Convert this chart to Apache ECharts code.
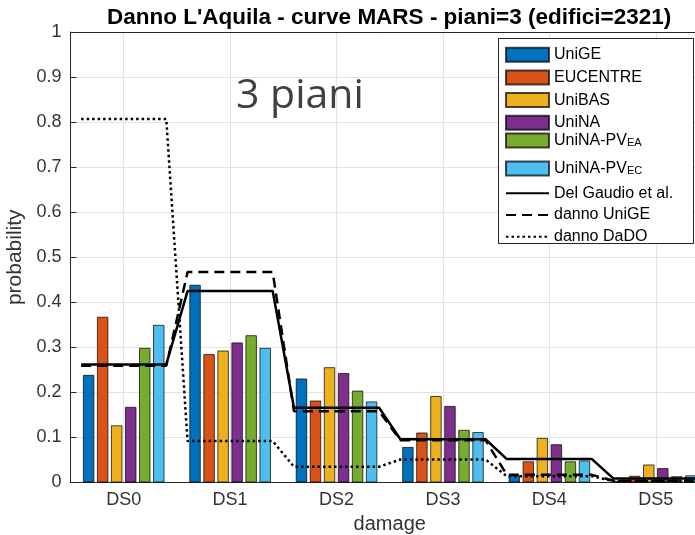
<!DOCTYPE html>
<html><head><meta charset="utf-8">
<script src="https://cdn.jsdelivr.net/npm/echarts@6/dist/echarts.min.js"></script>
<style>html,body{margin:0;padding:0;background:#fff}#c{width:695px;height:535px}</style>
</head><body><div id="c"></div>
<script>
// ---- data ----
const categories = ['DS0', 'DS1', 'DS2', 'DS3', 'DS4', 'DS5'];
const yTickLabels = ['0', '0.1', '0.2', '0.3', '0.4', '0.5', '0.6', '0.7', '0.8', '0.9', '1'];
const uniGE      = [0.239, 0.439, 0.231, 0.079, 0.016, 0.004];
const eucentre   = [0.368, 0.285, 0.182, 0.111, 0.047, 0.015];
const uniBAS     = [0.127, 0.293, 0.256, 0.192, 0.099, 0.040];
const uniNA      = [0.168, 0.311, 0.243, 0.170, 0.085, 0.032];
const uniNApvEA  = [0.299, 0.327, 0.204, 0.117, 0.047, 0.014];
const uniNApvEC  = [0.350, 0.299, 0.180, 0.112, 0.049, 0.016];
const delGaudio  = [0.262, 0.425, 0.166, 0.096, 0.052, 0.009];
const dannoUniGE = [0.259, 0.467, 0.158, 0.094, 0.017, 0.004];
const dannoDaDO  = [0.807, 0.092, 0.035, 0.051, 0.014, 0.003];
const stepHalf = 0.4; // each damage level drawn as a flat step across its group

function steps(vals) {
  const pts = [];
  vals.forEach((v, i) => { pts.push([i - stepHalf, v]); pts.push([i + stepHalf, v]); });
  return pts;
}

const FONT = 'Liberation Sans';
const AX = '#262626';
const colors = ['#0072BD', '#D95319', '#EDB120', '#7E2F8E', '#77AC30', '#4DBEEE'];
const barNames = ['UniGE', 'EUCENTRE', 'UniBAS', 'UniNA', 'UniNA-PV_EA', 'UniNA-PV_EC'];
const barData = [uniGE, eucentre, uniBAS, uniNA, uniNApvEA, uniNApvEC];

const barSeries = barNames.map((n, k) => ({
  name: n, type: 'bar', xAxisIndex: 0, yAxisIndex: 0,
  data: barData[k], barWidth: 11.5, barGap: '22%',
  itemStyle: { color: colors[k], borderColor: 'rgba(0,0,0,0.7)', borderWidth: 1 },
  emphasis: { disabled: true }
}));

const lineCommon = { type: 'line', xAxisIndex: 2, yAxisIndex: 0, symbol: 'none', silent: true, z: 5,
  itemStyle: { color: '#000', opacity: 0 }, emphasis: { disabled: true } };
const lineSeries = [
  Object.assign({}, lineCommon, { name: 'Del Gaudio et al.', data: steps(delGaudio), lineStyle: { color: '#000', width: 2.5, type: 'solid' } }),
  Object.assign({}, lineCommon, { name: 'danno UniGE', data: steps(dannoUniGE), lineStyle: { color: '#000', width: 2.5, type: [10, 6] } }),
  Object.assign({}, lineCommon, { name: 'danno DaDO', data: steps(dannoDaDO), lineStyle: { color: '#000', width: 2.5, type: [2.5, 3] } })
];

const legendText = { fontFamily: FONT, fontSize: 16, color: '#000', lineHeight: 14 };
const subRich = {
  m: { fontFamily: FONT, fontSize: 16, color: '#000', lineHeight: 16, verticalAlign: 'top' },
  s: { fontFamily: FONT, fontSize: 11, color: '#000', lineHeight: 11, verticalAlign: 'bottom', padding: [13, 0, 0, 0] }
};
function subFmt(name) { const p = name.split('_'); return '{m|' + p[0] + '}{s|' + p[1] + '}'; }

const chart = echarts.init(document.getElementById('c'), null, { renderer: 'canvas' });
chart.setOption({
  animation: false,
  backgroundColor: '#fff',
  title: [
    { text: "Danno L'Aquila - curve MARS - piani=3 (edifici=2321)", left: 107, top: 6, padding: 0,
      textStyle: { fontFamily: FONT, fontSize: 22.5, fontWeight: 'bold', color: '#000' } },
    { text: '3 piani', left: 236, top: 76, padding: 0,
      textStyle: { fontFamily: 'Open Sans', fontSize: 41, fontWeight: 'normal', color: '#404040' } }
  ],
  grid: { left: 70.5, right: -14, top: 32, bottom: 52.5, containLabel: false, outerBoundsMode: 'none' },
  xAxis: [
    { type: 'category', data: categories, position: 'bottom',
      axisLine: { onZero: false, lineStyle: { color: AX, width: 1 } },
      axisTick: { inside: true, length: 5, alignWithLabel: true, lineStyle: { color: AX } },
      axisLabel: { fontFamily: FONT, fontSize: 18, color: '#333', margin: 9 },
      splitLine: { show: true, alignWithLabel: true, lineStyle: { color: '#e3e3e3', width: 1 } },
      name: 'damage', nameLocation: 'middle', nameGap: 32,
      nameTextStyle: { fontFamily: FONT, fontSize: 20, color: '#333' } },
    { type: 'category', data: categories, position: 'top',
      axisLine: { onZero: false, lineStyle: { color: AX, width: 1 } },
      axisTick: { inside: true, length: 5, alignWithLabel: true, lineStyle: { color: AX } },
      axisLabel: { show: false }, splitLine: { show: false } },
    { type: 'value', min: -0.5, max: 5.5, show: false, axisLine: { onZero: false }, splitLine: { show: false } }
  ],
  yAxis: [
    { type: 'value', min: 0, max: 1, interval: 0.1, position: 'left',
      axisLine: { show: true, onZero: false, lineStyle: { color: AX, width: 1 } },
      axisTick: { show: true, inside: true, length: 6, lineStyle: { color: AX } },
      axisLabel: { fontFamily: FONT, fontSize: 18, color: '#333', margin: 9,
        formatter: (v) => yTickLabels[Math.round(v * 10)] },
      splitLine: { show: true, lineStyle: { color: '#e3e3e3', width: 1 } },
      name: 'probability', nameLocation: 'middle', nameGap: 37,
      nameTextStyle: { fontFamily: FONT, fontSize: 21, color: '#333' } }
  ],
  graphic: [
    { type: 'rect', z: 3, shape: { x: 498.5, y: 38.5, width: 195, height: 205 },
      style: { fill: '#fff', stroke: AX, lineWidth: 1 } }
  ],
  legend: [
    { data: ['UniGE', 'EUCENTRE', 'UniBAS', 'UniNA'], orient: 'vertical', left: 505, top: 46.7, padding: 0, icon: 'rect',
      itemWidth: 43, itemHeight: 14, itemGap: 6.7, textStyle: legendText, selectedMode: false, z: 6 },
    { data: ['UniNA-PV_EA'], orient: 'vertical', left: 505, top: 124.5, padding: 0, icon: 'rect',
      itemWidth: 43, itemHeight: 14, textStyle: { rich: subRich }, formatter: subFmt, selectedMode: false, z: 6 },
    { data: ['UniNA-PV_EC'], orient: 'vertical', left: 505, top: 152.5, padding: 0, icon: 'rect',
      itemWidth: 43, itemHeight: 14, textStyle: { rich: subRich }, formatter: subFmt, selectedMode: false, z: 6 },
    { data: ['Del Gaudio et al.', 'danno UniGE', 'danno DaDO'], orient: 'vertical', left: 505, top: 185.3, padding: 0,
      itemWidth: 43, itemHeight: 14, itemGap: 5.7, textStyle: legendText, selectedMode: false, z: 6,
      itemStyle: { opacity: 0 } }
  ],
  series: barSeries.concat(lineSeries)
});
</script>
</body></html>
